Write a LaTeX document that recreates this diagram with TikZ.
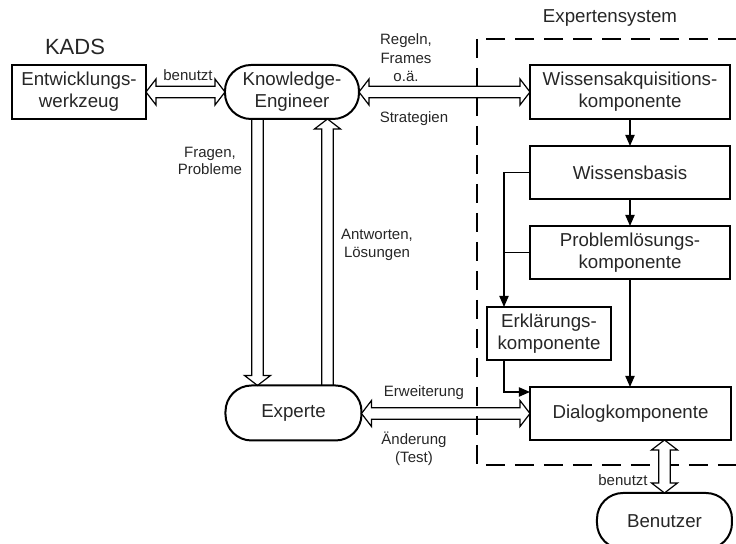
\documentclass[tikz,border=0pt]{standalone}
\usepackage{fontspec}
\setmainfont{Liberation Sans}
\usetikzlibrary{arrows.meta,calc}

% geometry of the hollow block arrows
\def\hl{5pt}   % head length
\def\hh{6.5pt} % head half width
\def\hw{2.9pt} % shaft half width

% horizontal block arrow with heads at both ends (#1 left, #2 right)
\newcommand\blockHH[2]{%
  \path[hollow] let \p1=(#1), \p2=(#2) in
    (\x1,\y2) -- (\x1+\hl,\y2+\hh) -- (\x1+\hl,\y2+\hw) -- (\x2-\hl,\y2+\hw)
    -- (\x2-\hl,\y2+\hh) -- (\x2,\y2) -- (\x2-\hl,\y2-\hh) -- (\x2-\hl,\y2-\hw)
    -- (\x1+\hl,\y2-\hw) -- (\x1+\hl,\y2-\hh) -- cycle;}
% vertical block arrow with heads at both ends (#1 top, #2 bottom)
\newcommand\blockVV[2]{%
  \path[hollow] let \p1=(#1), \p2=(#2) in
    (\x1,\y1) -- (\x1+\hh,\y1-\hl) -- (\x1+\hw,\y1-\hl) -- (\x1+\hw,\y2+\hl)
    -- (\x1+\hh,\y2+\hl) -- (\x1,\y2) -- (\x1-\hh,\y2+\hl) -- (\x1-\hw,\y2+\hl)
    -- (\x1-\hw,\y1-\hl) -- (\x1-\hh,\y1-\hl) -- cycle;}
% vertical block arrow pointing down, open at its start (#1 start, #2 tip)
\newcommand\blockDown[2]{%
  \draw[hollowline] let \p1=(#1), \p2=(#2) in
    (\x1-\hw,\y1) -- (\x1-\hw,\y2+\hl) -- (\x1-\hh,\y2+\hl) -- (\x1,\y2)
    -- (\x1+\hh,\y2+\hl) -- (\x1+\hw,\y2+\hl) -- (\x1+\hw,\y1);}
% vertical block arrow pointing up, open at its start (#1 start, #2 tip)
\newcommand\blockUp[2]{%
  \draw[hollowline] let \p1=(#1), \p2=(#2) in
    (\x1-\hw,\y1) -- (\x1-\hw,\y2-\hl) -- (\x1-\hh,\y2-\hl) -- (\x1,\y2)
    -- (\x1+\hh,\y2-\hl) -- (\x1+\hw,\y2-\hl) -- (\x1+\hw,\y1);}

\begin{document}
\begin{tikzpicture}[x=0.5pt,y=-0.5pt,
  mainfont/.style={font=\fontsize{9.35}{11}\selectfont},
  smallfont/.style={font=\fontsize{7.5}{8.8}\selectfont},
  comp/.style={draw, line width=0.65pt, inner sep=0pt, outer sep=0pt,
    align=center, mainfont, text=black!85},
  actor/.style={draw, line width=1pt, rounded corners=13pt, inner sep=0pt,
    outer sep=0pt, align=center, mainfont, text=black!85,
    minimum width=67pt, minimum height=27pt},
  lbl/.style={inner sep=0pt, align=center, smallfont, text=black!85},
  flow/.style={line width=0.65pt, -{Triangle[length=5.5pt,width=4.6pt]}},
  hollow/.style={draw, fill=white, line width=0.6pt, line join=miter},
  hollowline/.style={line width=0.6pt, line join=miter},
  sysframe/.style={line width=1.4pt, dash pattern=on 9.5pt off 5pt},
]
\useasboundingbox (0,0) rectangle (736,544);
\clip (0,0) rectangle (736,544);

% components and actors
\node[comp, minimum width=67pt, minimum height=27pt] (ew) at (79,92) {Entwicklungs-\\werkzeug};
\node[actor] (ke) at (292,92) {Knowledge-\\Engineer};
\node[comp, minimum width=100pt, minimum height=27pt] (wa) at (630,92) {Wissensakquisitions-\\komponente};
\node[comp, minimum width=100pt, minimum height=26.5pt] (wb) at (630,172.5) {Wissensbasis};
\node[comp, minimum width=100pt, minimum height=26.5pt] (pl) at (630,252.5) {Problemlösungs-\\komponente};
\node[comp, minimum width=62pt, minimum height=26.5pt] (ek) at (549,333.5) {Erklärungs-\\komponente};
\node[comp, minimum width=100.5pt, minimum height=26.5pt] (dk) at (630.5,413.5) {Dialogkomponente};
\node[actor, minimum width=68pt, minimum height=27.5pt] (ex) at (293.5,413) {Experte};
\node[actor, minimum width=67.5pt, minimum height=28pt] (bz) at (664.5,521) {Benutzer};

% titles
\node[font=\fontsize{11}{13}\selectfont, text=black!85, inner sep=0pt] (kads) at (75,47) {KADS};
\node[mainfont, text=black!85, inner sep=0pt] (es) at (610,18) {Expertensystem};

% arrow labels
\node[lbl] (l1) at (188,75) {benutzt};
\node[lbl, font=\fontsize{7.5}{9.3}\selectfont] (l2) at (406,58) {Regeln,\\Frames\\o.ä.};
\node[lbl] (l3) at (414,119) {Strategien};
\node[lbl] (l4) at (210,161) {Fragen,\\Probleme};
\node[lbl] (l5) at (377,245) {Antworten,\\Lösungen};
\node[lbl] (l6) at (424,393) {Erweiterung};
\node[lbl] (l7) at (414,449) {Änderung\\(Test)};
\node[lbl] (l8) at (623,480) {benutzt};

% block arrows between the actors and the system
\blockHH{ew.east}{ke.west}
\blockHH{ke.east}{wa.west}
\blockHH{ex.east}{dk.west}
\coordinate (fq) at ($(ke.south)+(-34.5,0)$);
\coordinate (aw) at ($(ex.north)+(34,0)$);
\blockDown{fq}{fq |- ex.north}
\blockUp{aw}{aw |- ke.south}

% inner flow of the expert system
\draw[flow] (wa.south) -- (wb.north);
\draw[flow] (wb.south) -- (pl.north);
\draw[flow] (pl.south) -- (pl.south |- dk.north);
\coordinate (jx) at ($(ek.north west)+(17,0)$);
\draw[flow] (wb.west) -| (jx);
\draw[line width=0.65pt] (pl.west) -- (pl.west -| jx);
\draw[flow] (ek.south -| jx) |- ($(dk.north west)+(0,5)$);

% system boundary
\coordinate (sysNW) at (477,39);
\coordinate (sysSE) at (790,465);
\draw[sysframe] (sysNW) rectangle (sysSE);

% user link
\coordinate (bu) at (bz.north |- dk.south);
\blockVV{bu}{bz.north}
\end{tikzpicture}
\end{document}
